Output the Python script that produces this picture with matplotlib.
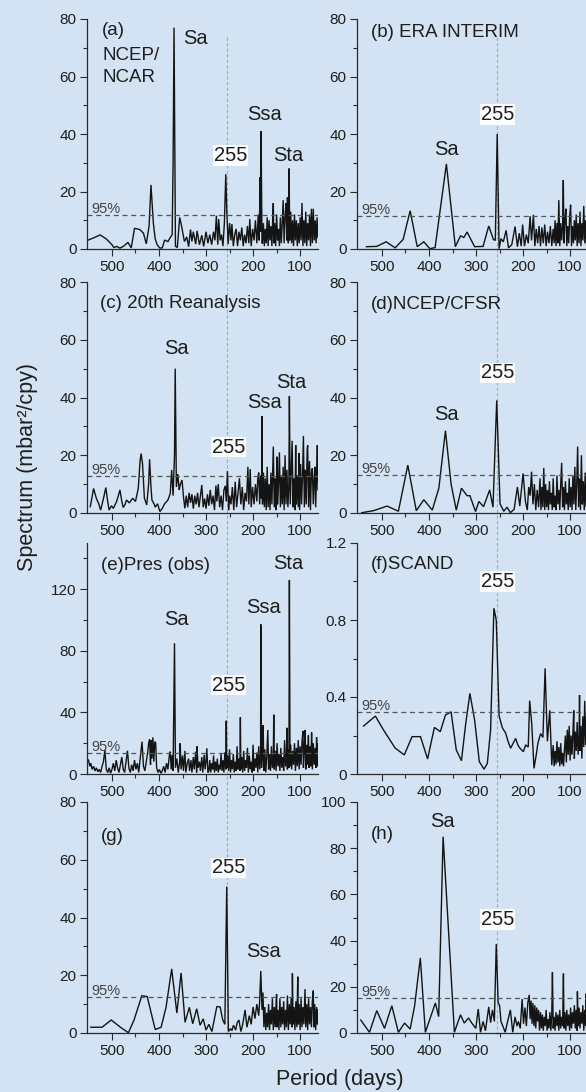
import matplotlib
matplotlib.use("Agg")
import matplotlib.pyplot as plt
from matplotlib.ticker import FixedLocator, MultipleLocator, FuncFormatter
from matplotlib.lines import Line2D
import matplotlib.transforms as mtransforms

plt.rcParams['font.family'] = ['Liberation Sans', 'DejaVu Sans']

# ---------------- data (period in days, spectrum) ----------------
A_P = [552, 540, 525, 512, 500, 496, 490, 483, 475, 466, 459, 452, 441, 433, 427, 421, 417, 412, 408, 404,
       398, 393, 388, 381, 376, 372, 370, 368, 365, 361, 356, 352, 346, 341, 337, 333, 330, 327, 322, 319,
       314, 309, 305, 300, 296, 292, 288, 284, 281, 278, 275, 273, 270, 267, 264, 261, 258, 256, 253, 250,
       247, 245, 242, 239, 236, 233, 230, 227, 224, 221, 218, 215, 212, 209, 207, 204, 201, 198, 195, 192,
       189, 187, 185, 184, 183, 181,
       180, 178, 176, 174, 172, 170, 168, 166, 164, 162, 160, 158, 157, 156, 154, 152, 150, 148, 146, 144,
       142, 140, 138, 136, 134, 132, 130, 128, 127, 125, 123.5, 122, 120, 118, 116, 114, 112, 110, 108, 106,
       104, 102, 100, 98, 96, 94, 92, 90, 88, 86, 84, 82, 80, 78, 76, 74, 72, 70, 68, 66, 64, 62]
A_V = [3.0, 3.8, 4.9, 3.5, 1.5, 0.5, 0.9, 0.3, 1.0, 2.3, 0.4, 7.2, 6.8, 5.5, 1.8, 8, 22.3, 9, 3.5, 1.5,
       0.3, 0.4, 3.1, 2.6, 4, 5, 30, 77, 1, 0.5, 11, 8, 2.6, 4.2, 0.8, 6.8, 2.6, 6.0, 1.7, 6.3,
       1.5, 4.8, 0.9, 6.0, 2.0, 5, 1.5, 6, 3, 11.6, 1.5, 10.4, 3, 5, 1, 9, 26, 14, 1.7, 9,
       3, 8.7, 1, 5, 7, 1, 6, 3, 7.5, 1, 5, 2, 8, 2, 10.4, 1, 7, 3, 10, 2,
       12, 3, 25, 6, 41, 2,
       2, 9, 1, 7, 2, 11, 1, 10, 3, 8, 1, 12, 16, 2, 9, 1, 12, 3, 7, 1,
       11, 2, 9, 17, 2, 11, 16, 3, 18, 2, 28, 3, 13, 2, 10, 1, 12, 3, 10, 1,
       9, 2, 11, 3, 16, 1, 10, 2, 13, 1, 9, 3, 12, 1, 14, 2, 14, 3, 10, 2, 11, 4]

B_P = [533, 511, 491, 472, 455, 440, 425, 411, 398, 387, 363, 344, 333, 326, 319, 303, 285, 273, 263, 259,
       255, 251, 247, 242, 236, 231, 224, 217, 212, 208, 204, 201, 197, 193, 189, 185, 182, 178, 175, 172,
       169, 166, 163, 160, 157, 154, 151, 148, 145, 142, 139, 136, 134, 132, 130, 128, 126, 124, 122, 120,
       118, 116, 114.5, 113, 111, 109, 107, 105, 103, 101, 99, 97, 95, 93, 91, 89, 87, 85, 83, 81,
       79, 77, 75, 73, 71, 69, 67, 65, 63]
B_V = [0.8, 0.9, 2.5, 0.4, 3.3, 13.3, 0.8, 2.5, 0.1, 0.5, 29.6, 0.8, 4.6, 4.0, 5.9, 0.8, 0.9, 8, 3.3, 3,
       40, 0.1, 3.6, 2.5, 6.5, 0.4, 1.5, 7.8, 0.8, 5.5, 1, 8.5, 1, 5, 2, 11.4, 3, 11.9, 1, 7,
       2, 8, 1, 7.5, 2, 8.5, 1, 6, 2, 8, 1, 7, 2, 10, 1, 9, 2, 17, 1, 9,
       3, 8, 24, 2, 10, 14, 1, 8, 2, 11, 15.4, 1, 8, 2, 10, 3, 12, 1, 9, 2,
       13, 1, 9, 3, 15, 2, 10, 1, 12]

C_P = [546, 539, 533, 528, 524, 518, 513, 509, 506, 501, 497, 490, 486, 483, 479, 476, 472, 469, 463, 456,
       450, 444, 440, 438, 435, 431, 426, 422, 420, 417, 415, 410, 408, 403, 398, 393, 388, 381, 376, 373,
       370, 367, 365.5, 363, 360, 357, 355, 351, 348, 345, 342, 339, 336, 333, 330, 327, 324, 321, 318, 315,
       312, 309, 306, 303, 300, 297, 294, 291, 288, 285, 282, 279, 277, 274, 271, 268, 265, 262, 259, 257,
       254.5, 252, 250, 247, 244, 241, 238, 235, 232, 229, 226, 223, 220, 217, 214, 211, 209, 206, 204, 201,
       198, 195, 192, 190, 188, 186, 184, 182, 181, 180,
       178, 176, 174, 172, 170, 168, 166, 164, 162, 160, 157, 155, 153, 151, 149.5, 148, 146, 144, 142, 140,
       138, 136, 134, 132, 130, 128, 126, 124, 122.8, 121, 119, 117, 115, 113, 111, 109.4, 108, 106, 104, 102.3,
       101, 99, 97, 95, 93, 91, 89, 87, 85, 84, 82, 80, 78, 76, 74, 72, 70, 68.4, 67, 65, 63.4, 62]
C_V = [2.2, 8.5, 5, 3.2, 1.0, 5, 8.8, 4, 1.0, 2.5, 1.6, 4, 6.2, 8, 4, 1.9, 3, 4.5, 3.5, 5.1,
       4, 8.5, 18.4, 20.6, 17, 5.1, 2.8, 10, 18.6, 9, 4.5, 3, 2, 3.2, 0.5, 1.6, 3.2, 4.5, 6.8, 14.9,
       6, 20, 50, 9, 13.5, 8, 9.7, 11.4, 5.7, 1.6, 6, 2, 7, 3.5, 6.5, 1.5, 6, 3, 7, 2,
       6, 9.7, 2, 5, 1.5, 6.5, 2.5, 8, 3, 6, 1, 9.5, 4, 10, 2, 6, 1, 8, 9.4, 4,
       14.5, 1, 6, 3, 9, 1, 10.8, 2, 7, 12, 3, 9, 1, 7, 4, 16, 3, 15.2, 2, 9,
       3, 10, 4, 12, 14, 3, 13, 5, 33.6, 3,
       14, 2, 12, 1, 16, 2, 10, 1, 14, 3, 23, 2, 12, 1, 19.5, 3, 10, 21, 2, 13,
       3, 16, 1, 20, 3, 15, 2, 9, 40.5, 3, 14, 25, 2, 12, 1, 23.5, 3, 13, 2, 20.7,
       1, 17, 3, 12, 26.7, 2, 15, 3, 22, 23.5, 2, 18, 1, 14, 15.5, 3, 12, 16, 2, 13, 23.5, 8]

D_P = [543, 518, 489, 465, 445, 427, 411, 393, 379, 365, 353, 342, 331, 319, 313, 301, 294, 284, 271, 264,
       256, 249, 241, 234, 227, 219, 212, 207, 200, 195, 191, 188, 185, 182, 179, 176, 173, 170, 167, 164,
       162, 160, 158, 156, 154, 152, 150, 148, 146, 144, 142, 140, 138, 136, 134, 132, 130, 128, 126, 124,
       122, 120, 118, 116, 114, 112, 110, 108, 106, 104, 102, 100, 98, 96, 94, 92, 90, 88, 86, 84,
       82, 80, 78, 76, 74, 72, 70, 68, 66, 64, 62]
D_V = [0.1, 0.8, 2.4, 0.6, 16.6, 0.8, 4.6, 1.0, 8.6, 28.5, 10, 1, 8.6, 6, 6, 0.5, 4, 2.2, 8, 2,
       39, 3.2, 0.6, 2, 0.1, 1.3, 9, 2.4, 13.7, 4, 1, 9, 6, 14.3, 3, 10, 1, 8, 2, 12,
       1, 9, 2, 15.6, 1, 10, 2, 8, 1, 11, 3, 7, 1, 12, 2, 6, 1, 13, 3, 8,
       1, 10, 17.4, 2, 9, 1, 11, 3, 7, 1, 12, 2, 9, 1, 13, 3, 16, 1, 10, 23,
       2, 12, 1, 20, 3, 11, 1, 14, 2, 9, 5]

E_P = [550, 547, 545, 542, 539, 536, 533, 530, 527, 524, 521, 518, 515, 512, 509, 506, 503, 500, 497, 494,
       491, 488, 485, 482, 479, 476, 473, 470, 467, 464, 461, 458, 455, 452, 449, 446, 443, 440, 437, 436,
       433, 430, 427, 424, 422, 420, 418, 417, 415, 413, 411, 409, 407, 405, 402, 399, 396, 393, 390, 387,
       384, 381, 378, 376, 374, 372, 370, 367, 365, 362, 359, 356, 355, 353, 350, 348, 345, 343, 340, 337,
       335, 332, 330, 327, 325, 322, 320, 319, 317, 314, 312, 309, 307, 304, 302, 300, 298.3, 296,
       294, 292, 290, 288, 286, 284, 282, 280, 278, 276, 274, 272, 270, 268, 266, 264, 262, 260, 258, 257,
       256, 254, 252, 250, 248, 246, 244, 242, 240, 238, 236, 234, 232, 230, 228, 227, 226, 224, 222, 220,
       218, 216, 214, 212, 210, 208, 206, 204, 202, 200, 198, 196, 194, 192, 190, 188, 186, 184, 183.6, 182,
       180, 178.6, 177, 175, 173, 171, 168.7, 167, 165, 163, 161, 159, 157, 156, 155, 153, 151, 149, 147, 145,
       143, 141, 139, 137, 135, 133, 131, 129, 128, 127, 125, 123.8, 122.8, 121.5, 120, 118, 116, 114, 112, 110,
       108, 106, 104, 102, 100, 98, 96, 94, 93, 91, 89.5, 88, 86, 84, 82.4, 81, 79, 77, 75.6, 74,
       72, 70, 68, 66, 65, 64, 63, 62]
E_V = [9.1, 5, 7, 3, 5, 2, 4, 1.5, 3, 1, 5, 8, 15.6, 3, 1, 4, 0.5, 3, 7, 2,
       9, 4, 1, 6, 11, 3, 1, 8, 15.1, 4, 1, 6, 2, 9, 3, 7, 1, 10, 18, 21,
       5, 2, 8, 14, 19.9, 22.4, 6, 22, 10, 23.8, 8, 21, 20, 4, 1, 3, 0.5, 2, 5, 1,
       7, 3, 12, 14.5, 3, 12.3, 2, 84.9, 4, 10, 1, 8, 19.9, 3, 12, 2, 15, 1, 7, 10,
       2, 9, 1, 11, 3, 14.5, 1, 18, 4, 8, 2, 11, 1, 12.5, 3, 8, 16.7, 1,
       2, 9, 1, 7, 3, 12, 1, 8, 2, 10, 1, 6, 3, 13, 2, 9, 1, 14, 3, 34.6,
       4, 12, 2, 16, 1, 9, 3, 13, 1, 8, 2, 18, 3, 10, 2, 36.8, 3, 11, 1, 15,
       2, 9, 4, 17, 1, 12, 3, 8, 1, 19, 2, 10, 4, 14, 1, 18, 3, 12, 97.2, 4,
       14, 31.8, 2, 16, 1, 11, 28.6, 3, 13, 2, 18, 4, 12, 38.5, 3, 15, 2, 20, 5, 13,
       2, 17, 4, 11, 2, 22, 5, 12, 30, 3, 16, 4, 126, 5, 19, 3, 15, 6, 20, 2,
       17, 5, 22, 3, 18, 6, 21, 28, 4, 17, 28.6, 3, 19, 6, 25, 4, 18, 5, 27, 3,
       20, 6, 17, 4, 24, 5, 20, 8]

F_P = [539, 514, 497, 472, 452.5, 436, 418, 403, 388.5, 376, 365, 353, 342, 331, 322, 313, 303, 293, 283, 276,
       269, 262, 257, 251, 244, 237, 232, 226.5, 221, 215.8, 211, 206.6, 199.4, 194.5, 189, 186, 181.6, 176.8, 172, 168.5,
       162.8, 157.8, 153.2, 148.3, 143.3, 139, 136, 134, 132, 130, 128, 126, 124, 122, 120, 118, 116, 114, 112, 110,
       108, 106, 104, 102, 100, 98, 96, 94, 92.3, 91, 89, 87, 85, 83, 81, 80, 79, 77, 75, 73,
       71, 69, 67, 65, 63]
F_V = [0.249, 0.301, 0.23, 0.135, 0.099, 0.194, 0.194, 0.078, 0.242, 0.22, 0.306, 0.323, 0.125, 0.069, 0.26, 0.419, 0.28, 0.064, 0.025, 0.055,
       0.229, 0.861, 0.8, 0.302, 0.24, 0.212, 0.17, 0.134, 0.16, 0.185, 0.15, 0.134, 0.116, 0.151, 0.14, 0.381, 0.262, 0.029, 0.1, 0.16,
       0.21, 0.19, 0.549, 0.17, 0.331, 0.046, 0.15, 0.04, 0.12, 0.05, 0.17, 0.06, 0.14, 0.04, 0.16, 0.05, 0.11, 0.04, 0.13, 0.2,
       0.06, 0.23, 0.1, 0.25, 0.07, 0.2, 0.1, 0.22, 0.33, 0.08, 0.22, 0.12, 0.27, 0.1, 0.2, 0.41, 0.12, 0.25, 0.08, 0.3,
       0.14, 0.38, 0.15, 0.3, 0.12]

G_P = [545, 521, 501.5, 482, 465, 453, 436.5, 425, 408, 395.5, 385, 373, 362, 353, 344.6, 335.4, 328.3, 319.8, 312.7, 306,
       300, 294, 287.5, 277, 270, 264.4, 260, 256, 252.5, 248, 245, 241.6, 237, 234, 230, 226, 222, 217, 213, 208,
       204, 200, 196, 192, 188, 186, 183.6, 181, 179, 177,
       175, 173, 171, 169, 167, 165, 163, 161, 159, 157, 155, 153, 151, 150, 149, 147, 145, 143, 141, 139,
       137, 135, 133, 131, 129, 127, 125, 123, 121, 119, 117, 116.4, 115, 113, 111, 109, 107, 105, 104, 102,
       100, 98, 96, 94, 92, 89.6, 88, 86, 84, 82, 80, 78, 76, 74, 72, 71, 69, 67, 65, 63, 62]
G_V = [2.0, 2.0, 4.5, 2.0, 0.1, 4.5, 12.9, 12.6, 1.2, 2, 8.9, 22.2, 6.9, 20.8, 3.7, 8.9, 3.2, 8.4, 2.7, 4.9,
       1, 3, 0.5, 9.2, 9, 4.5, 3, 50.7, 0.5, 1.5, 0.8, 2.7, 1, 3.5, 4.5, 0.5, 3, 8, 2, 6,
       3, 9, 5, 10, 6, 11, 21.5, 8, 14, 2,
       9, 1, 7, 2, 10, 1, 8, 3, 12, 1, 9, 2, 11, 13.5, 2, 8, 1, 12, 2, 9,
       3, 11, 1, 8, 2, 13, 1, 10, 3, 12, 2, 20.6, 3, 9, 1, 11, 2, 19.5, 3, 10,
       1, 12, 2, 9, 3, 15.2, 2, 10, 1, 12, 3, 9, 2, 11, 14.7, 2, 10, 1, 9, 3, 8]

H_P = [545, 526.5, 511, 494.5, 479, 465, 452, 440, 430.5, 418.4, 407.7, 398.5, 386.4, 379.4, 370, 346, 333, 325, 316, 309,
       300.5, 295.3, 290.5, 285, 280, 273, 269, 265, 261, 257, 253, 250, 247, 243, 238, 234, 227, 222, 217, 213,
       210, 206, 202, 199, 196, 193, 190, 187, 185, 183, 181, 179, 177, 175, 173, 171, 169, 167, 165,
       163, 161, 159, 157, 155, 153, 151, 149, 147, 145, 143, 141, 139, 137.6, 136, 134, 132, 130, 128, 126,
       124, 122, 120, 118, 116, 114.2, 113, 111, 109, 107, 105, 103, 101, 99, 97, 95, 93, 91, 89, 87,
       85, 84.5, 83, 81, 79, 77, 75, 73, 71, 69, 67, 66.7, 65, 63]
H_V = [5.6, 0.3, 9.7, 2.0, 11.8, 0.3, 4.3, 1.7, 11.8, 32.5, 0.3, 5.8, 13, 7.1, 85, 0.3, 7.9, 4.3, 6.5, 4.3,
       2.0, 10.4, 0.3, 5, 1, 11.3, 4.5, 10, 5, 38.5, 13, 12, 5, 3, 0.3, 4, 10, 0.3, 7, 3,
       5, 2, 14.7, 4, 11, 3, 13, 16.5, 6, 14, 4, 13, 3, 12, 2, 11, 5, 10, 1,
       9, 2, 8, 1, 7, 3, 10, 1, 6, 2, 9, 1, 8, 26.3, 2, 7, 1, 9, 3, 8,
       1, 10, 2, 7, 3, 25.7, 2, 9, 1, 10, 3, 8, 1, 11, 2, 9, 4, 12, 2, 10,
       1, 18, 3, 11, 2, 9, 4, 12, 1, 10, 3, 17, 2, 10]

SIG = {'a': 11.8, 'b': 11.5, 'c': 12.9, 'd': 13.3, 'e': 13.8, 'f': 0.322, 'g': 12.6, 'h': 15.2}
X_MAJOR = [500, 400, 300, 200, 100]
X_MINOR = [450, 350, 250, 150]
MARK_PERIOD = 255

# ---------------- layout ----------------
W, H = 586, 1092
BG = '#d3e3f3'
fig = plt.figure(figsize=(W / 100, H / 100), dpi=100, facecolor=BG)

COLS = [(87, 318), (357, 588)]
ROWS = [(19, 249), (282, 513), (543, 774), (802, 1033)]

panels = [
    ('a', A_P, A_V, 0, 0, 80, 20, 10),
    ('b', B_P, B_V, 0, 1, 80, 20, 10),
    ('c', C_P, C_V, 1, 0, 80, 20, 10),
    ('d', D_P, D_V, 1, 1, 80, 20, 10),
    ('e', E_P, E_V, 2, 0, 150, 40, 20),
    ('f', F_P, F_V, 2, 1, 1.2, 0.4, 0.2),
    ('g', G_P, G_V, 3, 0, 80, 20, 10),
    ('h', H_P, H_V, 3, 1, 100, 20, 10),
]

PANEL_FS = 13.5
PEAK_FS = 14.5
TXT = '#1e1e1e'

# text annotations: (text, x(period), y(value), fontsize, boxed)
labels = {
    'a': [('(a)', 521, 74.6, PANEL_FS, False), ('NCEP/', 521, 65.8, PANEL_FS, False),
          ('NCAR', 521, 58.2, PANEL_FS, False), ('Sa', 348, 71.3, PEAK_FS, False),
          ('Ssa', 213, 44.9, PEAK_FS, False), ('Sta', 158, 30.7, PEAK_FS, False),
          ('255', 284, 30.6, PEAK_FS, True)],
    'b': [('(b) ERA INTERIM', 523.5, 73.9, PANEL_FS, False), ('255', 290, 44.9, PEAK_FS, True),
          ('Sa', 388.5, 32.7, PEAK_FS, False)],
    'c': [('(c) 20th Reanalysis', 525, 70.9, PANEL_FS, False), ('Sa', 388, 55.1, PEAK_FS, False),
          ('Ssa', 213, 36.5, PEAK_FS, False), ('Sta', 151, 43.2, PEAK_FS, False),
          ('255', 288, 20.9, PEAK_FS, True)],
    'd': [('(d)NCEP/CFSR', 523.5, 70.5, PANEL_FS, False), ('255', 290, 46.6, PEAK_FS, True),
          ('Sa', 388.5, 32.2, PEAK_FS, False)],
    'e': [('(e)Pres (obs)', 523, 132.5, PANEL_FS, False), ('Sta', 157, 132.9, PEAK_FS, False),
          ('Ssa', 215.7, 104.4, PEAK_FS, False), ('Sa', 388, 96.8, PEAK_FS, False),
          ('255', 288, 54.1, PEAK_FS, True)],
    'f': [('(f)SCAND', 523.5, 1.063, PANEL_FS, False), ('255', 290, 0.970, PEAK_FS, True)],
    'g': [('(g)', 523, 66.5, PANEL_FS, False), ('255', 288, 55.3, PEAK_FS, True),
          ('Ssa', 215.7, 26.4, PEAK_FS, False)],
    'h': [('(h)', 523.5, 84, PANEL_FS, False), ('Sa', 397, 89, PEAK_FS, False),
          ('255', 290, 46.8, PEAK_FS, True)],
}


def fmt(v, pos):
    if abs(v) < 1e-9:
        return '0'
    return f'{v:g}'


axes = {}
for key, P, V, r, c, ytop, ymaj, ymin in panels:
    x0, x1 = COLS[c]
    yt, yb = ROWS[r]
    ax = fig.add_axes([x0 / W, 1 - yb / H, (x1 - x0) / W, (yb - yt) / H])
    ax.set_facecolor('none')
    axes[key] = ax
    ax.plot(P, V, color='#141414', lw=1.0, solid_joinstyle='miter')
    ax.set_xlim(553, 62)
    ax.set_ylim(0, ytop)
    for s in ('top', 'right'):
        ax.spines[s].set_visible(False)
    for s in ('left', 'bottom'):
        ax.spines[s].set_color('#2a2a2a')
        ax.spines[s].set_linewidth(0.9)
    ax.xaxis.set_major_locator(FixedLocator(X_MAJOR))
    ax.xaxis.set_minor_locator(FixedLocator(X_MINOR))
    ax.yaxis.set_major_locator(MultipleLocator(ymaj))
    ax.yaxis.set_minor_locator(MultipleLocator(ymin))
    ax.yaxis.set_major_formatter(FuncFormatter(fmt))
    ax.tick_params(which='major', direction='out', length=5, width=0.8, color='#2a2a2a',
                   labelsize=11, labelcolor=TXT, pad=2.5)
    ax.tick_params(which='minor', direction='out', length=3, width=0.8, color='#2a2a2a')
    ax.tick_params(axis='x', which='major', pad=3)

    lvl = SIG[key]
    ax.axhline(lvl, color='#555555', lw=0.9, ls=(0, (4, 3)))
    ax.annotate('95%', xy=(0, lvl), xycoords=('axes fraction', 'data'), xytext=(3.5, -1.0),
                textcoords='offset points', fontsize=10.5, color='#444444', va='bottom', ha='left')

    for txt, xx, yy, fs, boxed in labels[key]:
        kw = {}
        if boxed:
            kw['bbox'] = dict(boxstyle='square,pad=0.04', fc='white', ec='none', alpha=0.92)
        ax.text(xx, yy, txt, fontsize=fs, color=TXT, ha='left', va='baseline', zorder=5, **kw)

# vertical dashed marker line at 255 days through each column
for key in ('a', 'b'):
    ax = axes[key]
    tr = mtransforms.blended_transform_factory(ax.transData, fig.transFigure)
    ln = Line2D([MARK_PERIOD, MARK_PERIOD], [1 - 37 / H, 1 - 1037 / H], transform=tr,
                color='#a9a9a9', lw=0.8, ls=(0, (3, 2)), zorder=-1)
    fig.lines.append(ln)

fig.text(28 / W, 1 - 467 / H, 'Spectrum (mbar²/cpy)', rotation=90, ha='center', va='center',
         fontsize=15.5, color=TXT)
fig.text(340 / W, 1 - 1079 / H, 'Period (days)', ha='center', va='center', fontsize=15.5, color=TXT)

fig.savefig('out.png', dpi=100, facecolor=BG)
